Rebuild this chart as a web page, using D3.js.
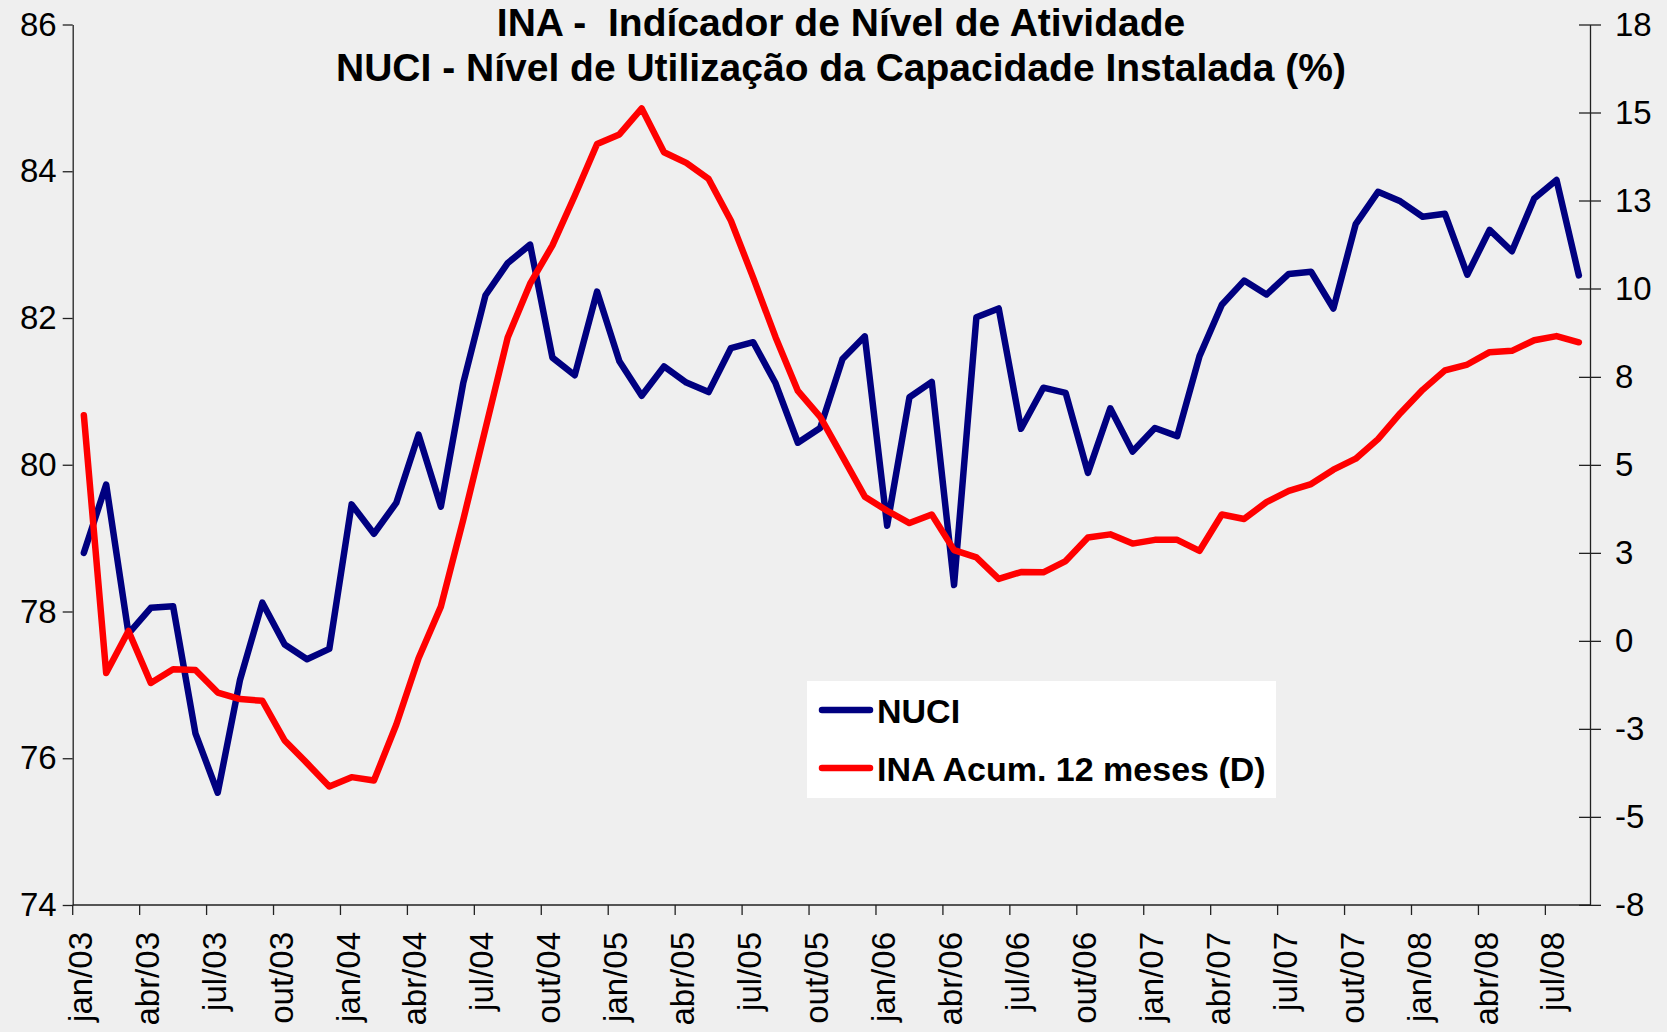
<!DOCTYPE html>
<html>
<head>
<meta charset="utf-8">
<script src="https://cdn.jsdelivr.net/npm/d3@7"></script>
<style>
  body { margin: 0; background: #efefef; }
  text { font-family: "Liberation Sans", Arial, sans-serif; }
</style>
</head>
<body>
<div id="holder"></div>
<script>
const w = 1667;
const h = 1032;
const plotLeft = 72.7;
const plotRight = 1590;
const plotTop = 24.5;
const plotBottom = 905;

// DATA
const months = [
  "jan/03","fev/03","mar/03","abr/03","mai/03","jun/03","jul/03","ago/03","set/03","out/03","nov/03","dez/03",
  "jan/04","fev/04","mar/04","abr/04","mai/04","jun/04","jul/04","ago/04","set/04","out/04","nov/04","dez/04",
  "jan/05","fev/05","mar/05","abr/05","mai/05","jun/05","jul/05","ago/05","set/05","out/05","nov/05","dez/05",
  "jan/06","fev/06","mar/06","abr/06","mai/06","jun/06","jul/06","ago/06","set/06","out/06","nov/06","dez/06",
  "jan/07","fev/07","mar/07","abr/07","mai/07","jun/07","jul/07","ago/07","set/07","out/07","nov/07","dez/07",
  "jan/08","fev/08","mar/08","abr/08","mai/08","jun/08","jul/08","ago/08"
];
const xTickLabels = ["jan/03","abr/03","jul/03","out/03","jan/04","abr/04","jul/04","out/04","jan/05","abr/05","jul/05","out/05",
  "jan/06","abr/06","jul/06","out/06","jan/07","abr/07","jul/07","out/07","jan/08","abr/08","jul/08"];

const nuci = [78.80, 79.73, 77.70, 78.05, 78.07, 76.34, 75.53, 77.07, 78.12, 77.55, 77.35, 77.49,
  79.46, 79.06, 79.48, 80.41, 79.43, 81.11, 82.31, 82.75, 83.00, 81.46, 81.22, 82.36,
  81.41, 80.94, 81.34, 81.12, 80.99, 81.59, 81.67, 81.11, 80.30, 80.50, 81.44, 81.75,
  79.17, 80.92, 81.13, 78.36, 82.01, 82.13, 80.49, 81.05, 80.98, 79.89, 80.77, 80.18,
  80.50, 80.39, 81.48, 82.18, 82.51, 82.32, 82.60, 82.63, 82.13, 83.28, 83.72, 83.59,
  83.38, 83.42, 82.59, 83.20, 82.91, 83.63, 83.88, 82.58];

const ina = [6.59, -0.94, 0.29, -1.23, -0.83, -0.85, -1.51, -1.70, -1.75, -2.91, -3.57, -4.25,
  -3.98, -4.08, -2.45, -0.51, 1.00, 3.53, 6.20, 8.87, 10.43, 11.55, 13.0, 14.51,
  14.79, 15.55, 14.27, 13.96, 13.49, 12.27, 10.6, 8.87, 7.30, 6.54, 5.38, 4.21,
  3.80, 3.44, 3.69, 2.65, 2.44, 1.81, 2.01, 2.0, 2.33, 3.02, 3.11, 2.84,
  2.95, 2.95, 2.63, 3.69, 3.56, 4.05, 4.38, 4.58, 5.0, 5.32, 5.89, 6.65,
  7.33, 7.9, 8.07, 8.43, 8.47, 8.78, 8.9, 8.72];

const leftTicks = [74, 76, 78, 80, 82, 84, 86];
const rightTicks = [18, 15.43, 12.86, 10.29, 7.71, 5.14, 2.57, 0, -2.57, -5.14, -7.71];

const titleLines = ["INA -  Indícador de Nível de Atividade", "NUCI - Nível de Utilização da Capacidade Instalada (%)"];
const legendItems = [
  { name: "NUCI", color: "#000080" },
  { name: "INA Acum. 12 meses (D)", color: "#ff0000" }
];

// SVG
const svg = d3.select("#holder")
  .append("svg")
  .attr("width", w)
  .attr("height", h)
  .style("display", "block")

svg.append("rect")
  .attr("width", w)
  .attr("height", h)
  .attr("fill", "#efefef")

// SCALES
const x = d3.scaleBand()
  .domain(months)
  .range([plotLeft, plotRight])

const yLeft = d3.scaleLinear()
  .domain([74, 86])
  .range([plotBottom, plotTop])

const yRight = d3.scaleLinear()
  .domain([-7.714, 18])
  .range([plotBottom, plotTop])

// LEFT AXIS
const gl = svg.append("g")
  .attr("transform", "translate(" + plotLeft + ",0)")
  .call(d3.axisLeft(yLeft).tickValues(leftTicks).tickSize(10).tickSizeOuter(0).tickPadding(6))
gl.selectAll("text").attr("font-size", 33).attr("fill", "#000")
gl.selectAll("line, path").attr("stroke", "#222").attr("stroke-width", 1.3)

// RIGHT AXIS
const gr = svg.append("g")
  .attr("transform", "translate(" + plotRight + ",0)")
  .call(d3.axisRight(yRight).tickValues(rightTicks).tickFormat(d => Math.round(d)).tickSize(11).tickSizeOuter(0).tickPadding(14))
gr.selectAll(".tick line").attr("x1", -11)
gr.selectAll("text").attr("font-size", 33).attr("fill", "#000")
gr.selectAll("line, path").attr("stroke", "#222").attr("stroke-width", 1.3)

// BOTTOM AXIS
svg.append("line")
  .attr("x1", plotLeft).attr("x2", plotRight)
  .attr("y1", plotBottom).attr("y2", plotBottom)
  .attr("stroke", "#222").attr("stroke-width", 1.3)

svg.selectAll(".xtick")
  .data(xTickLabels)
  .enter()
  .append("line")
  .attr("class", "xtick")
  .attr("x1", d => x(d)).attr("x2", d => x(d))
  .attr("y1", plotBottom).attr("y2", plotBottom + 10)
  .attr("stroke", "#222").attr("stroke-width", 1.3)

const gb = svg.append("g")
  .attr("transform", "translate(0," + plotBottom + ")")
  .call(d3.axisBottom(x).tickValues(xTickLabels).tickSize(0).tickSizeOuter(0))
gb.select(".domain").remove()
gb.selectAll("text")
  .attr("font-size", 33)
  .attr("fill", "#000")
  .attr("transform", "rotate(-90)")
  .attr("x", -27)
  .attr("y", 0)
  .attr("dy", "0.24em")
  .style("text-anchor", "end")

// LINES
const lineLeft = d3.line()
  .x((d, i) => x(months[i]) + x.bandwidth() / 2)
  .y(d => yLeft(d))

const lineRight = d3.line()
  .x((d, i) => x(months[i]) + x.bandwidth() / 2)
  .y(d => yRight(d))

svg.append("path")
  .datum(nuci)
  .attr("d", lineLeft)
  .attr("fill", "none")
  .attr("stroke", "#000080")
  .attr("stroke-width", 6.5)
  .attr("stroke-linejoin", "round")
  .attr("stroke-linecap", "round")

svg.append("path")
  .datum(ina)
  .attr("d", lineRight)
  .attr("fill", "none")
  .attr("stroke", "#ff0000")
  .attr("stroke-width", 6.5)
  .attr("stroke-linejoin", "round")
  .attr("stroke-linecap", "round")

// TITLE
svg.selectAll(".title")
  .data(titleLines)
  .enter()
  .append("text")
  .attr("class", "title")
  .attr("x", 841)
  .attr("y", (d, i) => 36 + i * 45)
  .attr("text-anchor", "middle")
  .attr("font-size", 39)
  .attr("font-weight", "bold")
  .style("white-space", "pre")
  .text(d => d)

// LEGEND
const legend = svg.append("g")
  .attr("transform", "translate(807,681)")

legend.append("rect")
  .attr("width", 469)
  .attr("height", 117)
  .attr("fill", "#fff")

legendItems.forEach((item, i) => {
  legend.append("line")
    .attr("x1", 15).attr("x2", 63)
    .attr("y1", 29 + i * 58).attr("y2", 29 + i * 58)
    .attr("stroke", item.color)
    .attr("stroke-width", 6.5)
    .attr("stroke-linecap", "round")
  legend.append("text")
    .attr("x", 70)
    .attr("y", 42 + i * 58)
    .attr("font-size", 34)
    .attr("font-weight", "bold")
    .text(item.name)
})
</script>
</body>
</html>
